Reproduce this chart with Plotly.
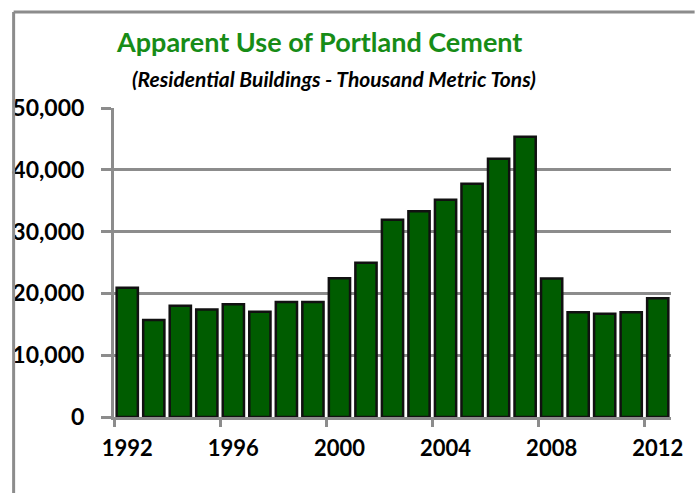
import plotly.graph_objects as go

years = list(range(1992, 2013))
values = [20900, 15700, 18000, 17400, 18250, 17050, 18600, 18600, 22450,
          24950, 31900, 33300, 35150, 37750, 41800, 45350, 22400, 16950,
          16700, 16950, 19200]
x_tick_vals = [1992, 1996, 2000, 2004, 2008, 2012]
x_tick_text = ["1992", "1996", "2000", "2004", "2008", "2012"]
y_tick_vals = [0, 10000, 20000, 30000, 40000, 50000]
y_tick_text = ["0", "10,000", "20,000", "30,000", "40,000", "50,000"]

title_text = "Apparent Use of Portland Cement"
subtitle_text = "(Residential Buildings - Thousand Metric Tons)"

W, H = 695, 493
L, R, T, B = 110, 19, 108, 76
pw = W - L - R
ph = H - T - B

grey = "#8c8c8c"
font_family = "Lato, 'Open Sans', sans-serif"

fig = go.Figure()
fig.add_trace(go.Bar(
    x=years, y=values,
    marker=dict(color="#005c00", line=dict(color="#111111", width=2.5)),
    hoverinfo="x+y",
))

fig.update_layout(
    width=W, height=H,
    margin=dict(l=L, r=R, t=T, b=B, pad=0),
    paper_bgcolor="white", plot_bgcolor="white",
    bargap=0.2,
    showlegend=False,
    font=dict(family=font_family, color="black"),
    xaxis=dict(
        range=[1991.5, 2012.5],
        tickmode="array", tickvals=x_tick_vals, ticktext=x_tick_text,
        ticks="", showgrid=False, zeroline=False,
        showline=True, linecolor=grey, linewidth=3,
        tickfont=dict(size=22, family=font_family, color="black", weight="bold"),
        minor=dict(tick0=1991.5, dtick=4, ticks="outside", ticklen=7,
                   tickwidth=3, tickcolor=grey, showgrid=False),
        ticklabelstandoff=10,
    ),
    yaxis=dict(
        range=[0, 50000],
        tickmode="array", tickvals=y_tick_vals, ticktext=y_tick_text,
        ticks="outside", ticklen=10, tickwidth=3, tickcolor=grey,
        showgrid=True, gridcolor=grey, gridwidth=3,
        zeroline=False,
        showline=True, linecolor=grey, linewidth=3,
        tickfont=dict(size=23, family=font_family, color="black", weight="bold"),
        ticklabelstandoff=12,
    ),
)

# outer frame (left and top)
fx = (8 - L) / pw
fy_top = (H - B - 12) / ph
fy_bot = (H - B - H - 5) / ph
fig.add_shape(type="line", xref="paper", yref="paper",
              x0=fx, x1=fx, y0=fy_bot, y1=fy_top,
              line=dict(color=grey, width=3))
fig.add_shape(type="line", xref="paper", yref="paper",
              x0=fx, x1=(W + 5 - L) / pw, y0=fy_top, y1=fy_top,
              line=dict(color=grey, width=3))

fig.add_annotation(
    text=title_text, xref="paper", yref="paper",
    x=(318 - L) / pw, y=(H - B - 41) / ph, showarrow=False,
    xanchor="center", yanchor="middle",
    font=dict(size=27, family=font_family, color="#178c17", weight="bold"),
)
fig.add_annotation(
    text="<i>" + subtitle_text + "</i>", xref="paper", yref="paper",
    x=(334 - L) / pw, y=(H - B - 78) / ph, showarrow=False,
    xanchor="center", yanchor="middle",
    font=dict(size=21, family=font_family, color="black", weight="bold"),
)

fig.write_html(
    "out.html",
    config={"displayModeBar": False},
    post_script="document.body.style.margin='0';document.body.style.overflow='hidden';",
)
